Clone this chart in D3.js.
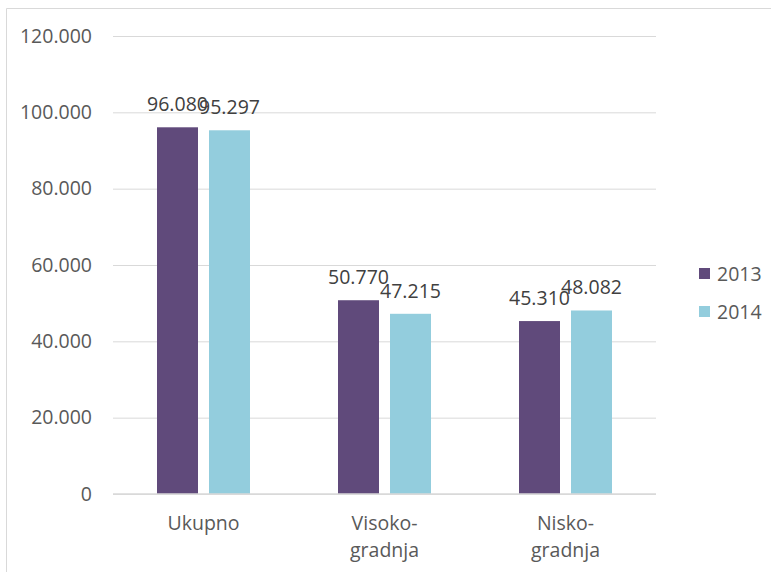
<!DOCTYPE html>
<html>
<head>
<meta charset="utf-8">
<script src="https://cdn.jsdelivr.net/npm/d3@7"></script>
<style>
  html, body { margin: 0; padding: 0; background: #fff; }
  svg text { font-family: "Open Sans", "Noto Sans", sans-serif; }
</style>
</head>
<body>
<svg id="chart" width="771" height="572"></svg>
<script>
const categories = [["Ukupno"], ["Visoko-", "gradnja"], ["Nisko-", "gradnja"]];
const categoryKeys = ["Ukupno", "Visokogradnja", "Niskogradnja"];
const seriesNames = ["2013", "2014"];
const values2013 = [96080, 50770, 45310];
const values2014 = [95297, 47215, 48082];
const yTicks = [0, 20000, 40000, 60000, 80000, 100000, 120000];
const colors = ["#604a7b", "#93cddd"];

const fmtLabel = v => (v / 1000).toFixed(3);
const fmtTick = v => v === 0 ? "0" : (v / 1000).toFixed(3);
const FS = "19.5px";

const svg = d3.select("#chart");

// outer border (top & left visible)
svg.append("path").attr("d", "M6.5,572 V8.5 H771").attr("fill", "none")
  .attr("stroke", "#d9d9d9").attr("stroke-width", 1);

const plot = { left: 113, right: 656, top: 36, bottom: 494 };
const x = d3.scaleBand().domain(categoryKeys).range([plot.left, plot.right]);
const y = d3.scaleLinear().domain([0, 120000]).range([plot.bottom, plot.top]);

const barW = 41, gap = 11;
const xs = d3.scaleOrdinal().domain(seriesNames).range([-(gap / 2 + barW), gap / 2]);

// gridlines + y labels
const yAxis = d3.axisLeft(y).tickValues(yTicks).tickFormat(fmtTick)
  .tickSize(-(plot.right - plot.left)).tickPadding(21);
const gy = svg.append("g").attr("transform", `translate(${plot.left},0)`).call(yAxis);
gy.select(".domain").remove();
gy.selectAll(".tick line").attr("stroke", "#d9d9d9").attr("stroke-width", 1);
gy.selectAll(".tick text").attr("fill", "#595959").attr("font-size", FS)
  .attr("font-family", '"Open Sans", sans-serif');

const data = categoryKeys.map((k, i) => ({ key: k, label: categories[i], vals: [values2013[i], values2014[i]] }));

const groups = svg.append("g").selectAll("g").data(data).join("g")
  .attr("transform", d => `translate(${x(d.key) + x.bandwidth() / 2},0)`);

groups.each(function(d) {
  const g = d3.select(this);
  d.vals.forEach((v, si) => {
    g.append("rect")
      .attr("x", xs(seriesNames[si])).attr("width", barW)
      .attr("y", y(v)).attr("height", y(0) - y(v))
      .attr("fill", colors[si]);
  });
  d.vals.forEach((v, si) => {
    g.append("text")
      .attr("x", xs(seriesNames[si]) + barW / 2).attr("y", y(v) - 16)
      .attr("text-anchor", "middle").attr("font-size", FS).attr("fill", "#404040")
      .text(fmtLabel(v));
  });
  const t = g.append("text").attr("text-anchor", "middle").attr("font-size", FS).attr("fill", "#595959");
  d.label.forEach((line, li) => {
    t.append("tspan").attr("x", 0).attr("y", 530 + li * 27).text(line);
  });
});

// x axis baseline
svg.append("line").attr("x1", plot.left).attr("x2", plot.right).attr("y1", y(0)).attr("y2", y(0))
  .attr("stroke", "#d9d9d9").attr("stroke-width", 1.5);

// legend
const legend = svg.append("g").attr("transform", "translate(699,268)");
seriesNames.forEach((s, i) => {
  const lg = legend.append("g").attr("transform", `translate(0,${i * 38})`);
  lg.append("rect").attr("width", 11).attr("height", 11).attr("fill", colors[i]);
  lg.append("text").attr("x", 18).attr("y", 6).attr("dy", "0.35em")
    .attr("font-size", FS).attr("fill", "#595959").text(s);
});
</script>
</body>
</html>
